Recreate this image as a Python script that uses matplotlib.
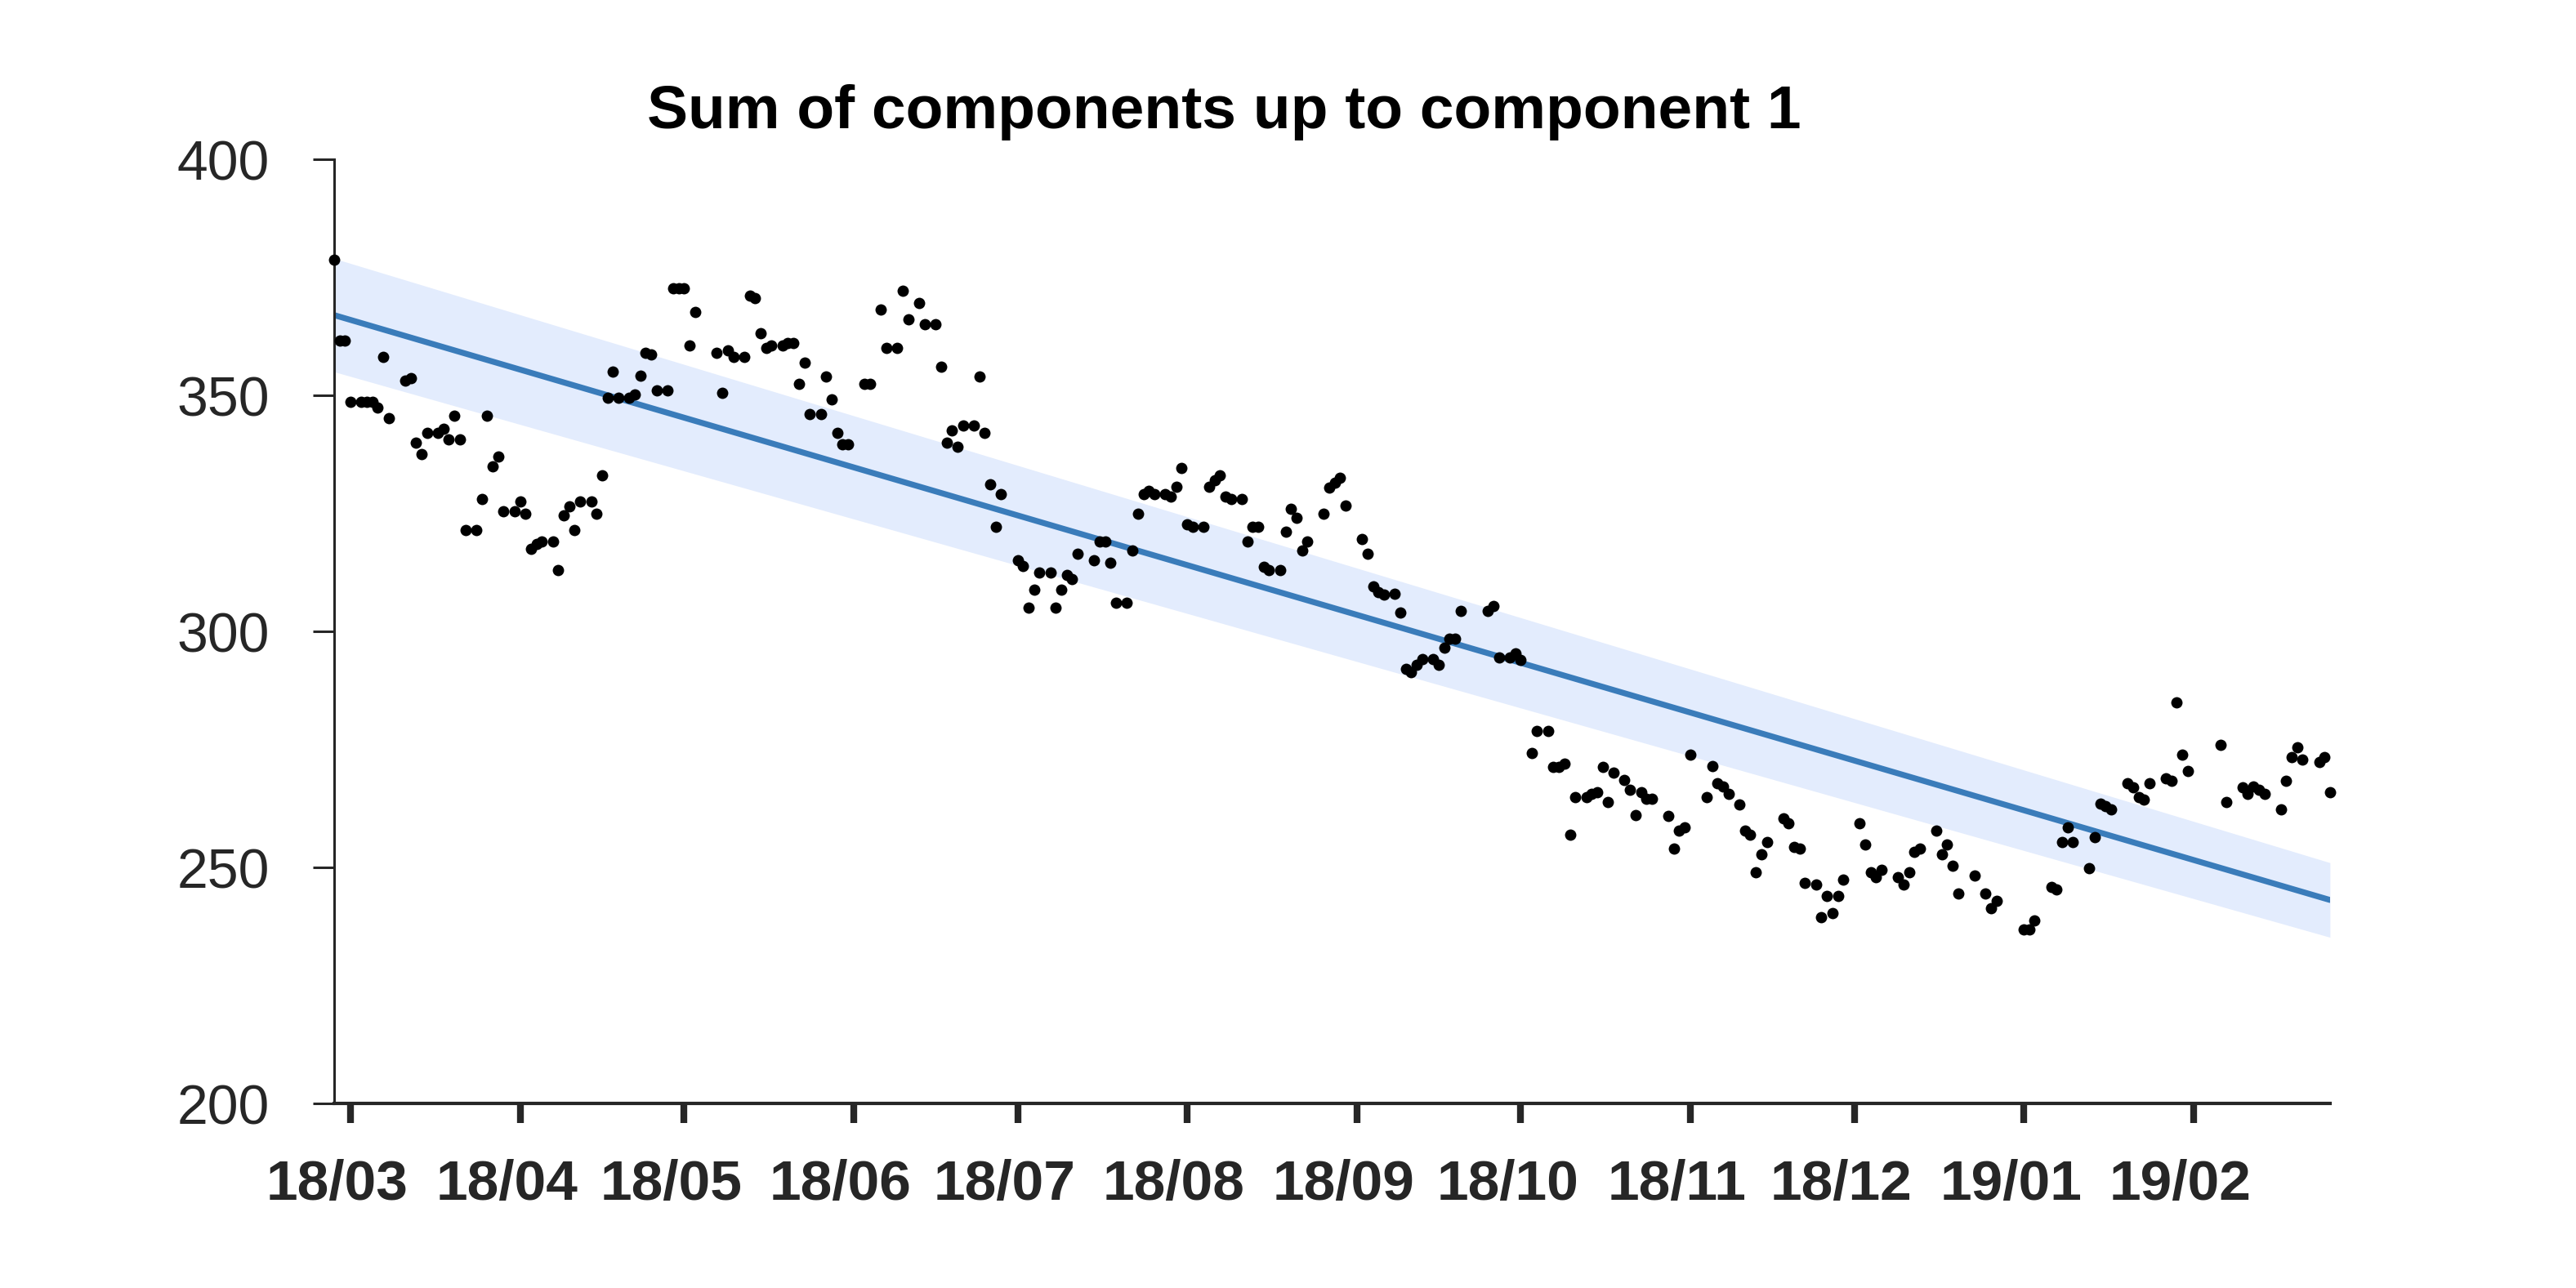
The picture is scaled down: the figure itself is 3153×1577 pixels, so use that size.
import matplotlib

matplotlib.use("Agg")
import matplotlib.dates as mdates
import matplotlib.pyplot as plt
from matplotlib.transforms import ScaledTranslation
import numpy as np

start_date = "2018-02-26"
end_offset = 365

# day offsets from start_date and the plotted value for each dot
day_offsets = [
    0, 1, 2, 3, 5, 6, 7, 8, 9, 10, 13, 14, 15, 16, 17, 19, 20, 21, 22, 23,
    24, 26, 27, 28, 29, 30, 31, 33, 34, 35, 36, 37, 38, 40, 41, 42, 43, 44, 45, 47,
    48, 49, 50, 51, 52, 54, 55, 56, 57, 58, 59, 61, 62, 63, 64, 65, 66, 70, 71, 72,
    73, 75, 76, 77, 78, 79, 80, 82, 83, 84, 85, 86, 87, 89, 90, 91, 92, 93, 94, 97,
    98, 100, 101, 103, 104, 105, 107, 108, 110, 111, 112, 113, 114, 115, 117, 118, 119, 120, 121, 122,
    125, 126, 127, 128, 129, 131, 132, 133, 134, 135, 136, 139, 140, 141, 142, 143, 145, 146, 147, 148,
    149, 150, 152, 153, 154, 155, 156, 157, 159, 160, 161, 162, 163, 164, 166, 167, 168, 169, 170, 171,
    173, 174, 175, 176, 177, 178, 181, 182, 183, 184, 185, 188, 189, 190, 191, 192, 194, 195, 196, 197,
    198, 199, 201, 202, 203, 204, 205, 206, 211, 212, 213, 215, 216, 217, 219, 220, 222, 223, 224, 225,
    226, 227, 229, 230, 231, 232, 233, 234, 236, 237, 238, 239, 240, 241, 244, 245, 246, 247, 248, 251,
    252, 253, 254, 255, 257, 258, 259, 260, 261, 262, 265, 266, 267, 268, 269, 271, 272, 273, 274, 275,
    276, 279, 280, 281, 282, 283, 286, 287, 288, 289, 290, 293, 294, 295, 296, 297, 300, 302, 303, 304,
    309, 310, 311, 314, 315, 316, 317, 318, 321, 322, 323, 324, 325, 328, 329, 330, 331, 332, 335, 336,
    337, 338, 339, 345, 346, 349, 350, 351, 352, 353, 356, 357, 358, 359, 360, 363, 364, 365,
]
values = [
    378.7, 361.6, 361.6, 348.6, 348.6, 348.6, 348.6, 347.5, 358.1, 345.1, 353.2, 353.6, 340.0, 337.5, 342.0, 342.0, 343.0, 340.6, 345.6, 340.6,
    321.5, 321.5, 328.0, 345.6, 335.0, 337.0, 325.5, 325.5, 327.5, 325.0, 317.5, 318.6, 319.0, 319.0, 313.0, 324.5, 326.5, 321.5, 327.5, 327.5,
    325.0, 333.0, 349.5, 355.1, 349.5, 349.5, 350.1, 354.1, 359.0, 358.6, 351.0, 351.0, 372.6, 372.6, 372.6, 360.6, 367.6, 359.0, 350.6, 359.6,
    358.1, 358.1, 371.2, 370.6, 363.1, 360.1, 360.5, 360.6, 361.1, 361.1, 352.5, 357.0, 346.0, 346.0, 354.0, 349.1, 342.1, 339.6, 339.6, 352.5,
    352.5, 368.1, 360.1, 360.1, 372.1, 366.1, 369.6, 365.1, 365.1, 356.1, 340.0, 342.6, 339.1, 343.6, 343.6, 354.0, 342.1, 331.1, 322.1, 329.0,
    315.1, 313.9, 305.0, 308.9, 312.4, 312.4, 305.0, 308.9, 312.0, 311.0, 316.5, 315.1, 319.1, 319.1, 314.5, 306.0, 306.0, 317.1, 325.0, 329.0,
    329.7, 329.0, 329.0, 328.5, 330.6, 334.6, 322.6, 322.1, 322.1, 330.6, 332.1, 333.0, 328.5, 328.0, 328.0, 319.1, 322.1, 322.1, 313.6, 313.0,
    313.0, 321.1, 326.0, 324.0, 317.1, 319.1, 325.0, 330.5, 331.5, 332.5, 326.6, 319.5, 316.5, 309.5, 308.3, 307.8, 307.9, 304.0, 292.0, 291.4,
    293.0, 294.1, 294.1, 292.9, 296.5, 298.5, 298.5, 304.4, 304.4, 305.4, 294.4, 294.4, 295.4, 293.9, 274.3, 278.9, 278.9, 271.3, 271.3, 271.9,
    257.0, 264.9, 264.9, 265.5, 265.9, 271.3, 263.9, 270.0, 268.5, 266.4, 261.0, 265.9, 264.5, 264.5, 260.9, 253.9, 257.8, 258.4, 273.9, 264.9,
    271.4, 267.8, 267.1, 265.5, 263.4, 257.8, 256.9, 248.9, 252.8, 255.4, 260.4, 259.3, 254.4, 253.9, 246.8, 246.3, 239.4, 243.9, 240.4, 243.9,
    247.4, 259.4, 254.8, 248.9, 247.9, 249.4, 247.9, 246.4, 248.9, 253.3, 253.9, 257.8, 252.8, 254.8, 250.3, 244.4, 248.3, 244.4, 241.3, 242.9,
    236.8, 236.8, 238.8, 245.9, 245.3, 255.4, 258.4, 255.4, 249.9, 256.4, 263.5, 262.9, 262.3, 267.8, 266.9, 264.9, 264.4, 267.9, 268.9, 268.3,
    285.0, 273.9, 270.4, 275.9, 263.9, 266.9, 265.5, 267.1, 266.5, 265.5, 262.3, 268.4, 273.4, 275.4, 272.8, 272.4, 273.4, 265.9,
]

# linear trend at the first and last day, and half-width of the band there
trend_ends = [367.0, 243.1]
band_half_widths = [12.0, 7.9]

title = "Sum of components up to component 1"
y_ticks = [200, 250, 300, 350, 400]

TEXT = "#262626"
LINE_BLUE = "#3a7cba"
BAND_BLUE = "#e3ecfd"

plt.rcParams["font.family"] = ["Liberation Sans", "DejaVu Sans"]

start = np.datetime64(start_date)
dates = start + np.array(day_offsets).astype("timedelta64[D]")
end_dates = np.array([start, start + np.timedelta64(end_offset, "D")])
trend = np.array(trend_ends)
half = np.array(band_half_widths)

fig = plt.figure(figsize=(15.765, 7.885), dpi=200)
ax = fig.add_axes([0.1297, 0.1433, 0.7748, 0.7330])

ax.fill_between(end_dates, trend - half, trend + half, color=BAND_BLUE, lw=0, zorder=1)
ax.plot(end_dates, trend, color=LINE_BLUE, lw=2.6, solid_capstyle="round", zorder=2)
ax.plot(dates, values, "o", ms=5.0, mew=0, color="black", zorder=3, clip_on=False)

ax.set_xlim(end_dates[0], end_dates[1])
ax.set_ylim(200, 400)
ax.set_yticks(y_ticks)
ax.xaxis.set_major_locator(mdates.MonthLocator())
ax.xaxis.set_major_formatter(mdates.DateFormatter("%y/%m"))

for side in ("top", "right"):
    ax.spines[side].set_visible(False)
ax.spines["left"].set_linewidth(1.1)
ax.spines["bottom"].set_linewidth(1.5)
ax.spines["left"].set_color(TEXT)
ax.spines["bottom"].set_color(TEXT)

ax.tick_params(axis="y", length=9.4, width=1.1, pad=19, labelsize=24.5, colors=TEXT)
ax.tick_params(axis="x", length=8.6, width=3.0, pad=16, labelsize=25, colors=TEXT)
shift = ScaledTranslation(-0.08, 0, fig.dpi_scale_trans)
for lab in ax.get_xticklabels():
    lab.set_fontweight("bold")
    lab.set_transform(lab.get_transform() + shift)

ax.set_title(title, fontsize=27, fontweight="bold", color="black", x=0.446, pad=13.7)

fig.savefig("out.png", dpi=200)
